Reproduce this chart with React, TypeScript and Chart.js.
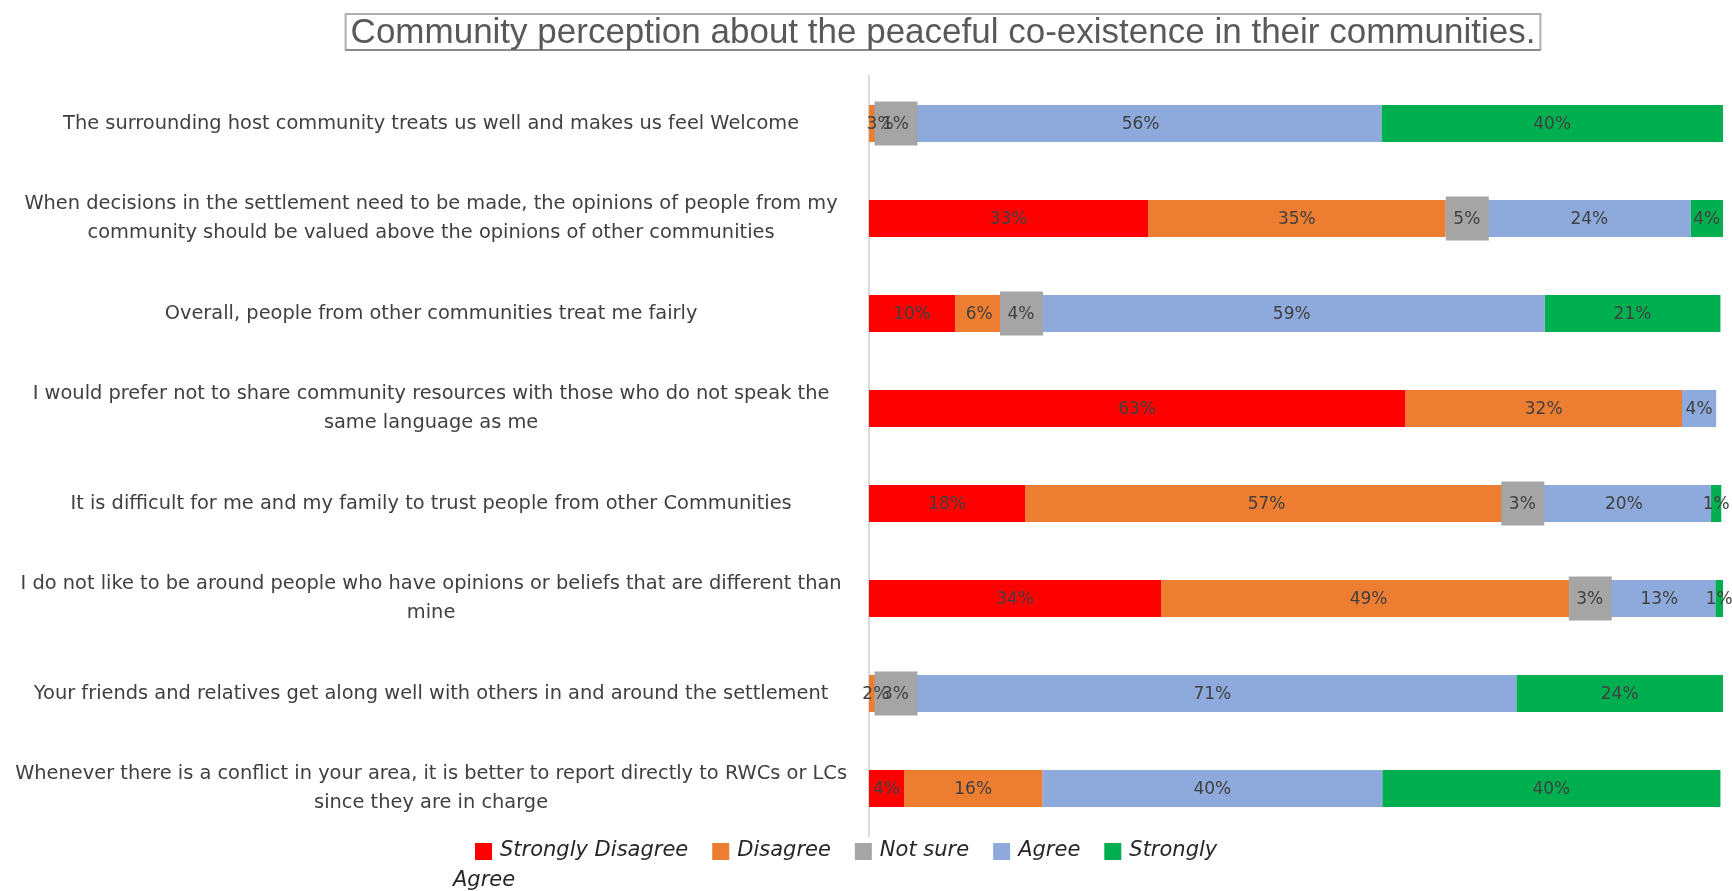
import React, { useEffect, useRef } from "react";
import { Chart, registerables } from "chart.js";

Chart.register(...registerables);

const titleText = "Community perception about the peaceful co-existence in their communities.";

const categories: string[][] = [
  ["The surrounding host community treats us well and makes us feel Welcome"],
  ["When decisions in the settlement need to be made, the opinions of people from my", "community should be valued above the opinions of other communities"],
  ["Overall, people from other communities treat me fairly"],
  ["I would prefer not to share community resources with those who do not speak the", "same language as me"],
  ["It is difficult for me and my family to trust people from other Communities"],
  ["I do not like to be around people who have opinions or beliefs that are different than", "mine"],
  ["Your friends and relatives get along well with others in and around the settlement"],
  ["Whenever there is a conflict in your area, it is better to report directly to RWCs or LCs", "since they are in charge"],
];

const seriesNames = ["Strongly Disagree", "Disagree", "Not sure", "Agree", "Strongly Agree"];
const seriesColors = ["#FF0000", "#ED7D31", "#A5A5A5", "#8EA9DB", "#00B050"];

const stronglyDisagree = [0, 32.7, 10.1, 62.8, 18.3, 34.2, 0, 4.1];
const disagree = [2.6, 34.8, 5.6, 32.4, 56.5, 48.6, 1.6, 16.2];
const notSure = [1, 5, 4.2, 0, 3.4, 3.2, 3, 0];
const agree = [56.4, 23.7, 59.2, 4.0, 20.4, 13.1, 71.2, 39.8];
const stronglyAgree = [40, 3.8, 20.6, 0, 1.2, 0.9, 24.2, 39.6];

const seriesValues = [stronglyDisagree, disagree, notSure, agree, stronglyAgree];

const labelFont = '17px "DejaVu Sans", sans-serif';
const labelColor = "#404040";

const dataLabelPlugin = {
  id: "dataLabels",
  afterDatasetsDraw(chart: any) {
    const ctx = chart.ctx;
    ctx.save();
    // gray label boxes first
    chart.data.datasets.forEach((ds: any, di: number) => {
      if (di !== 2) return;
      const meta = chart.getDatasetMeta(di);
      meta.data.forEach((el: any, i: number) => {
        const v = ds.data[i];
        if (!v) return;
        const c = el.getCenterPoint();
        ctx.fillStyle = "#A5A5A5";
        ctx.fillRect(c.x - 21, c.y - 22, 43, 44);
      });
    });
    ctx.font = labelFont;
    ctx.fillStyle = labelColor;
    ctx.textAlign = "center";
    ctx.textBaseline = "middle";
    chart.data.datasets.forEach((ds: any, di: number) => {
      const meta = chart.getDatasetMeta(di);
      meta.data.forEach((el: any, i: number) => {
        const v = ds.data[i];
        if (!v) return;
        const c = el.getCenterPoint();
        ctx.fillText(Math.round(v) + "%", c.x, c.y + 1);
      });
    });
    ctx.restore();
  },
};

const titlePlugin = {
  id: "boxedTitle",
  afterDraw(chart: any) {
    const ctx = chart.ctx;
    ctx.save();
    ctx.font = '35px "Liberation Sans", Arial, sans-serif';
    const w = ctx.measureText(titleText).width;
    const cx = 943;
    const cy = 32;
    const left = cx - w / 2 - 5;
    const right = cx + w / 2 + 5;
    ctx.strokeStyle = "#B0B0B0";
    ctx.lineWidth = 2;
    ctx.strokeRect(left, 14, right - left, 36);
    ctx.strokeStyle = "#8C8C8C";
    ctx.beginPath();
    ctx.moveTo(left, 50);
    ctx.lineTo(right, 50);
    ctx.stroke();
    ctx.fillStyle = "#595959";
    ctx.textAlign = "center";
    ctx.textBaseline = "middle";
    ctx.fillText(titleText, cx, cy + 1);
    ctx.restore();
  },
};

const legendPlugin = {
  id: "customLegend",
  afterDraw(chart: any) {
    const ctx = chart.ctx;
    ctx.save();
    ctx.font = 'italic 21px "DejaVu Sans", sans-serif';
    ctx.textBaseline = "middle";
    ctx.textAlign = "left";
    let x = 475;
    const y = 851;
    seriesNames.forEach((name, i) => {
      ctx.fillStyle = seriesColors[i];
      ctx.fillRect(x, y - 8, 17, 17);
      x += 25;
      const words = i === 4 ? name.split(" ") : [name];
      ctx.fillStyle = "#262626";
      ctx.fillText(words[0], x, y);
      x += ctx.measureText(words[0]).width + 24;
      if (words.length > 1) {
        ctx.fillText(words.slice(1).join(" "), 453, y + 30);
      }
    });
    ctx.restore();
  },
};

export default function App() {
  const canvasRef = useRef<HTMLCanvasElement | null>(null);

  useEffect(() => {
    document.body.style.margin = "0";
    document.body.style.overflow = "hidden";
    const canvas = canvasRef.current;
    if (!canvas) return;
    const chart = new Chart(canvas, {
      type: "bar",
      data: {
        labels: categories,
        datasets: seriesNames.map((name, i) => ({
          label: name,
          data: seriesValues[i],
          backgroundColor: seriesColors[i],
          borderWidth: 0,
          categoryPercentage: 1,
          barPercentage: 0.39,
        })),
      },
      options: {
        indexAxis: "y",
        animation: false,
        responsive: true,
        maintainAspectRatio: false,
        layout: { padding: { left: 0, right: 9, top: 76, bottom: 55 } },
        plugins: {
          legend: { display: false },
          title: { display: false },
          tooltip: { enabled: false },
        },
        scales: {
          x: { stacked: true, min: 0, max: 100, display: false },
          y: {
            stacked: true,
            afterFit: (scale: any) => {
              scale.width = 869;
            },
            grid: { display: false, drawTicks: false },
            border: { display: true, color: "#D9D9D9", width: 2 },
            ticks: {
              crossAlign: "center",
              padding: 22,
              color: labelColor,
              font: { family: '"DejaVu Sans", sans-serif', size: 19.4, lineHeight: 1.48 },
            },
          },
        },
      },
      plugins: [dataLabelPlugin, titlePlugin, legendPlugin],
    });
    return () => chart.destroy();
  }, []);

  return (
    <div style={{ position: "relative", width: 1732, height: 891 }}>
      <canvas ref={canvasRef} />
    </div>
  );
}
